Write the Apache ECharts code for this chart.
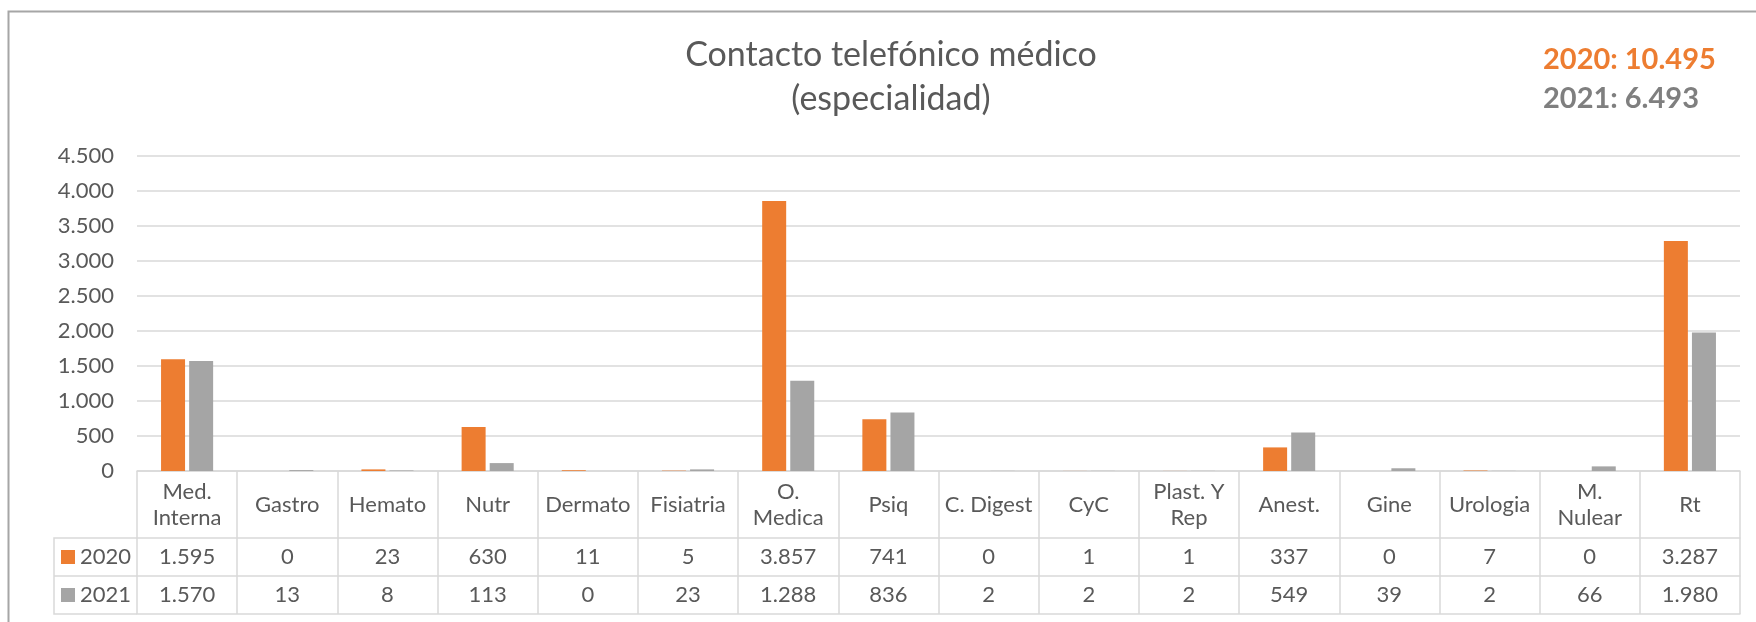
<!DOCTYPE html>
<html>
<head>
<meta charset="utf-8">
<script src="https://cdn.jsdelivr.net/npm/echarts@6/dist/echarts.min.js"></script>
<style>
  html, body { margin: 0; padding: 0; background: #fff; }
  #chart { width: 1756px; height: 622px; }
</style>
</head>
<body>
<div id="chart"></div>
<script>
// datos
const categories = ['Med.\nInterna', 'Gastro', 'Hemato', 'Nutr', 'Dermato', 'Fisiatria', 'O.\nMedica', 'Psiq',
  'C. Digest', 'CyC', 'Plast. Y\nRep', 'Anest.', 'Gine', 'Urologia', 'M.\nNulear', 'Rt']
const years = ['2020', '2021']
const values2020 = [1595, 0, 23, 630, 11, 5, 3857, 741, 0, 1, 1, 337, 0, 7, 0, 3287]
const values2021 = [1570, 13, 8, 113, 0, 23, 1288, 836, 2, 2, 2, 549, 39, 2, 66, 1980]
const yMin = 0
const yMax = 4500
const yStep = 500

// formato con punto de miles
const fmt = (v) => String(v).replace(/\B(?=(\d{3})+(?!\d))/g, '.')
const sum = (arr) => arr.reduce((a, b) => a + b, 0)

// layout
const FONT = 'Lato'
const TXT = '#595959'
const LINE = '#d9d9d9'
const PLOT_L = 137
const PLOT_R = 1740
const PLOT_T = 156
const AXIS_Y = 471
const HEAD_H = 67
const ROW_H = 38
const LEG_L = 54

const chart = echarts.init(document.getElementById('chart'))

const labelStyle = { fontFamily: FONT, fontSize: 22, color: TXT }

// ejes x: cabecera + filas de la tabla de datos
const tableAxis = (labels, offset, tickLen, showLabel) => ({
  type: 'category',
  gridIndex: 0,
  position: 'bottom',
  offset: offset,
  data: labels,
  axisLine: { show: true, lineStyle: { color: LINE, width: 1.5 } },
  axisTick: { show: tickLen > 0, inside: true, length: tickLen, interval: 0, lineStyle: { color: LINE, width: 1.5 } },
  axisLabel: Object.assign({ show: showLabel, interval: 0, margin: ROW_H / 2, verticalAlign: 'middle', hideOverlap: false }, labelStyle),
  splitLine: { show: false }
})

const option = {
  animation: false,
  backgroundColor: '#fff',
  title: [
    {
      text: 'Contacto telefónico médico\n(especialidad)',
      left: 891,
      top: 33,
      textAlign: 'center',
      padding: 0,
      textStyle: { fontFamily: FONT, fontSize: 34, fontWeight: 'normal', color: TXT, lineHeight: 44 }
    },
    {
      text: years[0] + ': ' + fmt(sum(values2020)),
      left: 1543,
      top: 44,
      padding: 0,
      textStyle: { fontFamily: FONT, fontSize: 29, fontWeight: 'bold', color: '#ed7d31', lineHeight: 32 }
    },
    {
      text: years[1] + ': ' + fmt(sum(values2021)),
      left: 1543,
      top: 83,
      padding: 0,
      textStyle: { fontFamily: FONT, fontSize: 29, fontWeight: 'bold', color: '#7f7f7f', lineHeight: 32 }
    }
  ],
  legend: {
    data: years,
    orient: 'vertical',
    left: LEG_L + 7,
    top: AXIS_Y + HEAD_H + 8,
    padding: 0,
    icon: 'rect',
    itemWidth: 14,
    itemHeight: 14,
    itemGap: 16,
    selectedMode: false,
    textStyle: Object.assign({ lineHeight: 22 }, labelStyle)
  },
  grid: {
    left: PLOT_L,
    right: 1756 - PLOT_R,
    top: PLOT_T,
    bottom: 622 - AXIS_Y,
    outerBoundsMode: 'none'
  },
  xAxis: [
    {
      type: 'category',
      data: categories,
      axisLine: { show: true, lineStyle: { color: LINE, width: 1.5 } },
      axisTick: { show: false },
      axisLabel: Object.assign({ interval: 0, margin: HEAD_H / 2, verticalAlign: 'middle', lineHeight: 26, hideOverlap: false }, labelStyle),
      splitLine: { show: false }
    },
    tableAxis(values2020.map(fmt), HEAD_H, HEAD_H, true),
    tableAxis(values2021.map(fmt), HEAD_H + ROW_H, ROW_H, true),
    tableAxis(categories, HEAD_H + 2 * ROW_H, ROW_H, false)
  ],
  yAxis: {
    type: 'value',
    min: yMin,
    max: yMax,
    interval: yStep,
    axisLine: { show: false },
    axisTick: { show: false },
    axisLabel: Object.assign({ margin: 23, formatter: fmt }, labelStyle),
    splitLine: { lineStyle: { color: LINE, width: 1.5 } }
  },
  series: [
    {
      name: years[0],
      type: 'bar',
      data: values2020,
      barWidth: 24,
      barGap: '17%',
      itemStyle: { color: '#ed7d31' }
    },
    {
      name: years[1],
      type: 'bar',
      data: values2021,
      barWidth: 24,
      itemStyle: { color: '#a5a5a5' }
    }
  ],
  graphic: [
    // marco del gráfico
    {
      type: 'rect',
      silent: true,
      shape: { x: 8.5, y: 11.5, width: 1800, height: 700 },
      style: { fill: 'none', stroke: '#a6a6a6', lineWidth: 2 }
    },
    // columna de la leyenda en la tabla
    {
      type: 'polyline',
      silent: true,
      shape: { points: [[PLOT_L, AXIS_Y + HEAD_H], [LEG_L, AXIS_Y + HEAD_H], [LEG_L, AXIS_Y + HEAD_H + 2 * ROW_H], [PLOT_L, AXIS_Y + HEAD_H + 2 * ROW_H]] },
      style: { fill: 'none', stroke: LINE, lineWidth: 1.5 }
    },
    {
      type: 'line',
      silent: true,
      shape: { x1: LEG_L, y1: AXIS_Y + HEAD_H + ROW_H, x2: PLOT_L, y2: AXIS_Y + HEAD_H + ROW_H },
      style: { stroke: LINE, lineWidth: 1.5 }
    }
  ]
}

chart.setOption(option)
</script>
</body>
</html>
